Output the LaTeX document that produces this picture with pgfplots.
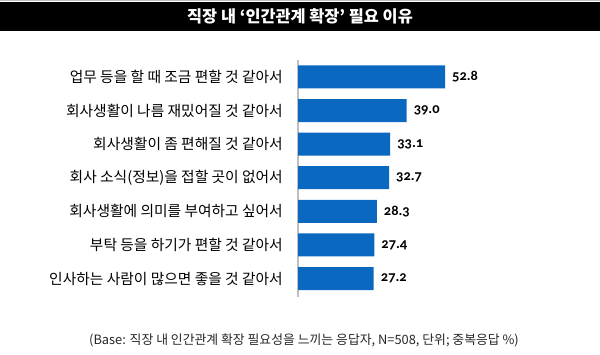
\documentclass[border=0pt]{standalone}
\usepackage{fontspec}
\setmainfont{Noto Sans CJK KR}
\newfontfamily\numfont[Numbers=OldStyle]{Carlito}
\usepackage{pgfplots}
\pgfplotsset{compat=1.18}
\definecolor{barblue}{HTML}{0A68C0}
\begin{document}
\begin{tikzpicture}[x=1bp,y=1bp]
\useasboundingbox (0,0) rectangle (600,354);
\fill[white] (0,0) rectangle (600,354);
\fill[black] (0,352) rectangle (600,323);
\draw[gray!50, line width=1bp] (0,353.5) -- (600,353.5);
\node[white, font=\fontsize{16.4}{19}\selectfont\bfseries] at (300,337.5) {직장 내 ‘인간관계 확장’ 필요 이유};
\begin{axis}[
  at={(298bp,57bp)}, anchor=south west,
  scale only axis, width=300bp, height=236.9bp,
  xbar, bar width=23bp,
  xmin=0, xmax=107.76, ymin=-0.5, ymax=6.55, y dir=reverse,
  axis x line=none, axis y line*=left,
  y axis line style={draw=black!25, line width=1.5bp, -},
  ytick={0,1,2,3,4,5,6},
  yticklabels={업무 등을 할 때 조금 편할 것 같아서, 회사생활이 나름 재밌어질 것 같아서, 회사생활이 좀 편해질 것 같아서, 회사 소식(정보)을 접할 곳이 없어서, 회사생활에 의미를 부여하고 싶어서, 부탁 등을 하기가 편할 것 같아서, 인사하는 사람이 많으면 좋을 것 같아서},
  major tick length=0pt,
  yticklabel style={font=\fontsize{14.8}{17}\selectfont, anchor=east, inner sep=0pt, xshift=-15bp, text=black},
  clip=false,
  nodes near coords={\pgfmathprintnumber[fixed, fixed zerofill, precision=1, assume math mode=true]{\pgfplotspointmeta}},
  nodes near coords style={font=\numfont\bfseries\fontsize{14.5}{17}\selectfont, anchor=west, inner sep=0pt, xshift=7bp, text=black},
]
\addplot[fill=barblue, draw=none] coordinates {
  (52.8,0) (39.0,1) (33.1,2) (32.7,3) (28.3,4) (27.4,5) (27.2,6)
};
\end{axis}
\node[font=\fontsize{12.9}{15}\selectfont, text=black!85] at (304,14) {(Base: 직장 내 인간관계 확장 필요성을 느끼는 응답자, N=508, 단위; 중복응답 \%)};
\end{tikzpicture}
\end{document}
